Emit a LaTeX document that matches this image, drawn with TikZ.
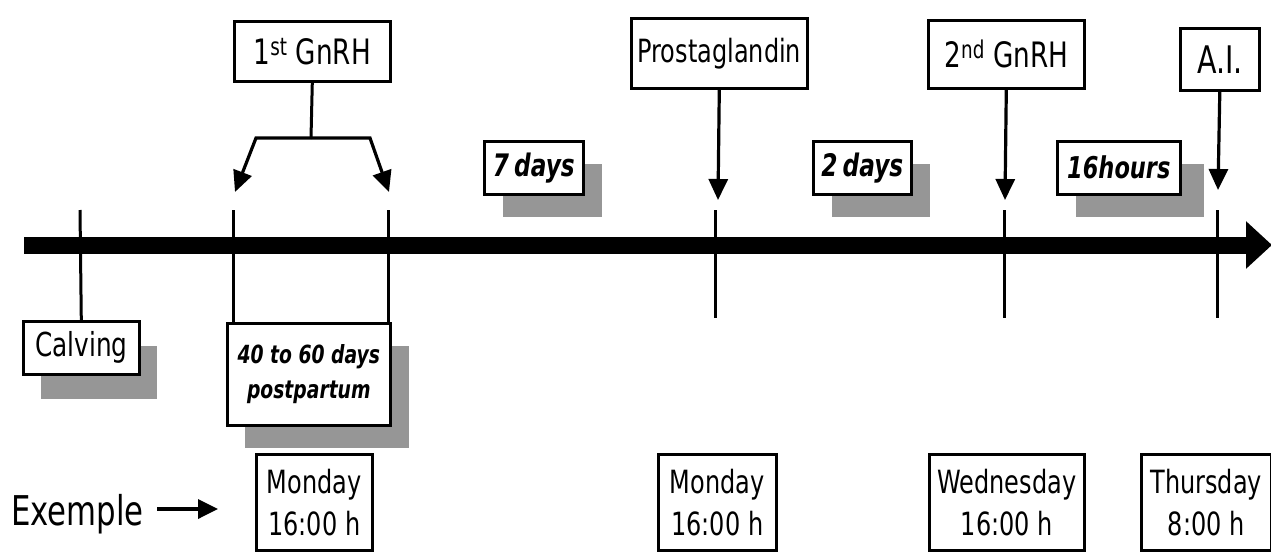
\documentclass[tikz,border=0pt]{standalone}
\usepackage{fontspec}
\setmainfont{DejaVu Sans}[FakeStretch=0.75]
\usetikzlibrary{arrows.meta,shadows}
\definecolor{shd}{RGB}{150,150,150}
\begin{document}
\begin{tikzpicture}[x=1pt,y=-1pt,line join=miter,
  box/.style={draw,line width=2.6pt,fill=white,inner sep=0pt,anchor=north west,
    font=\fontsize{32}{38}\selectfont},
  ibox/.style={box,align=center,font=\fontsize{31}{35}\selectfont\bfseries\itshape,
    drop shadow={shadow xshift=19pt,shadow yshift=-23pt,opacity=1,fill=shd,draw=none}},
  dbox/.style={box,align=center,font=\fontsize{32}{42}\selectfont},
  tickl/.style={line width=3pt},
  arr/.style={line width=3.2pt,-{Triangle[length=21pt,width=19pt]}}]
\useasboundingbox (0,0) rectangle (1271,552);
% main axis
\coordinate (ax0) at (24,245);
\coordinate (ax1) at (1272,245);
\draw[line width=17pt,-{Triangle[length=26pt,width=46pt]}] (ax0) -- (ax1);
% top boxes
\node[box,minimum width=156pt,minimum height=60pt,font=\fontsize{35}{38}\selectfont] (g1) at (233,20) {1\textsuperscript{st} GnRH};
\node[box,minimum width=176pt,minimum height=70pt] (pg) at (630,17) {Prostaglandin};
\node[box,minimum width=156pt,minimum height=68pt,font=\fontsize{35}{38}\selectfont] (g2) at (927,19) {2\textsuperscript{nd} GnRH};
\node[box,minimum width=79pt,minimum height=62pt,font=\fontsize{38}{40}\selectfont] (ai) at (1179,27) {A.I.};
% interval boxes
\node[ibox,minimum width=99pt,minimum height=53pt] (d7) at (483,140) {7\,days};
\node[ibox,minimum width=98pt,minimum height=53pt] (d2) at (812,140) {2\,days};
\node[ibox,minimum width=123pt,minimum height=53pt,font=\fontsize{30}{35}\selectfont\bfseries\itshape,
  drop shadow={shadow xshift=24pt,shadow yshift=-23pt,opacity=1,fill=shd,draw=none}] (h16) at (1056,140) {16hours};
% lower boxes
\node[box,minimum width=116pt,minimum height=53pt,font=\fontsize{33}{38}\selectfont,
  drop shadow={shadow xshift=18pt,shadow yshift=-25pt,opacity=1,fill=shd,draw=none}] (calv) at (22,320) {Calving};
\node[ibox,minimum width=163pt,minimum height=102pt,font=\fontsize{25}{35}\selectfont\bfseries\itshape,
  drop shadow={shadow xshift=18pt,shadow yshift=-23pt,opacity=1,fill=shd,draw=none}] (pp) at (226,322) {40 to 60 days\\postpartum};
% date boxes
\node[dbox,minimum width=116pt,minimum height=96pt] (mon1) at (255,453) {Monday\\16:00 h};
\node[dbox,minimum width=118pt,minimum height=96pt] (mon2) at (657,453) {Monday\\16:00 h};
\node[dbox,minimum width=155pt,minimum height=96pt] (wed) at (928,453) {Wednesday\\16:00 h};
\node[dbox,minimum width=130pt,minimum height=96pt] (thu) at (1140,453) {Thursday\\8:00 h};
% Exemple
\node[inner sep=0pt,anchor=base west,font=\fontsize{41}{44}\selectfont] (ex) at (11,525) {Exemple};
\coordinate (exa) at (157,509);
\coordinate (exb) at (218,509);
\draw[line width=3.5pt,-{Triangle[length=20pt,width=19pt]}] (exa) -- (exb);
% ticks
\coordinate (tC) at (80,210);
\coordinate (tA) at (233,210);
\coordinate (tB) at (388,210);
\coordinate (tP) at (715,210);
\coordinate (tP2) at (715,318);
\coordinate (tG) at (1004,210);
\coordinate (tG2) at (1004,318);
\coordinate (tI) at (1217,210);
\coordinate (tI2) at (1217,318);
\draw[tickl] (tC) -- (calv.north);
\draw[tickl] (tA) -- (tA |- pp.north);
\draw[tickl] (tB) -- (tB |- pp.north);
\draw[tickl] (tP) -- (tP2);
\draw[tickl] (tG) -- (tG2);
\draw[tickl] (tI) -- (tI2);
% 1st GnRH fork
\coordinate (fm) at (311,138);
\coordinate (fl) at (256,138);
\coordinate (fr) at (370,138);
\coordinate (fla) at (235,192);
\coordinate (fra) at (389,192);
\draw[line width=3pt] (g1.south) -- (fm);
\draw[arr] (fm) -- (fl) -- (fla);
\draw[arr] (fm) -- (fr) -- (fra);
% arrows to axis
\coordinate (pga) at (718,200);
\coordinate (g2a) at (1005,200);
\coordinate (aia) at (1218,190);
\draw[arr] (pg.south) -- (pga);
\draw[arr] (g2.south) -- (g2a);
\draw[arr] (ai.south) -- (aia);
\end{tikzpicture}
\end{document}
